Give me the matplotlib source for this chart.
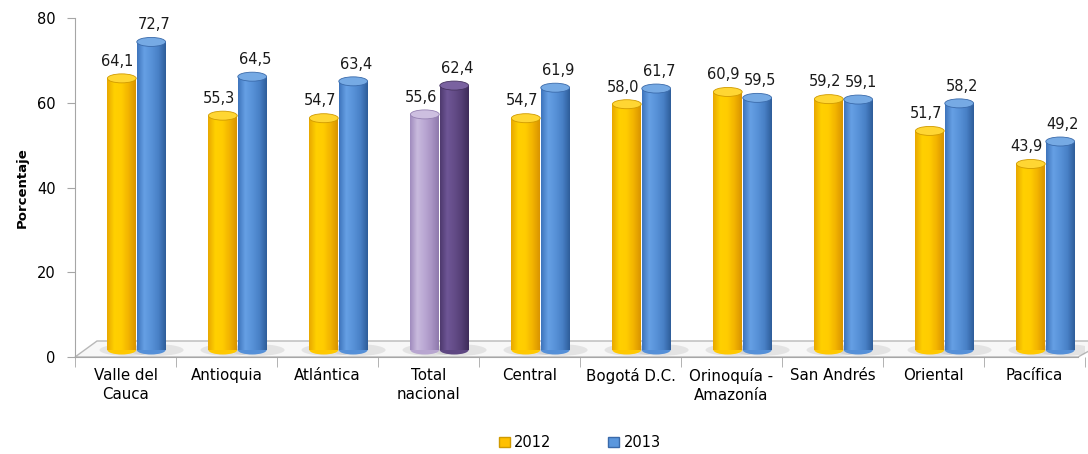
import numpy as np
import matplotlib
matplotlib.use("Agg")
import matplotlib.pyplot as plt
import matplotlib.transforms as mtransforms
from matplotlib.patches import Ellipse, Polygon, Patch

# datos
regiones = ["Valle del\nCauca", "Antioquia", "Atlántica", "Total\nnacional", "Central",
            "Bogotá D.C.", "Orinoquía -\nAmazonía", "San Andrés", "Oriental", "Pacífica"]
valores_2012 = [64.1, 55.3, 54.7, 55.6, 54.7, 58.0, 60.9, 59.2, 51.7, 43.9]
valores_2013 = [72.7, 64.5, 63.4, 62.4, 61.9, 61.7, 59.5, 59.1, 58.2, 49.2]
idx_total = 3

plt.rcParams["font.family"] = ["DejaVu Sans"]

# degradados tipo cilindro (izquierda -> derecha)
def perfil(colores):
  stops = np.linspace(0, 1, len(colores))
  rgb = np.array([matplotlib.colors.to_rgb(c) for c in colores])
  t = np.linspace(0, 1, 64)
  return np.stack([np.interp(t, stops, rgb[:, k]) for k in range(3)], axis=-1)[None, :, :]

estilo = {
  "2012": dict(grad=["#E8A800", "#FFD000", "#FFCC00", "#F2B300", "#D99400"], top="#FFD633", edge="#D09A00", mid="#FFC800"),
  "2013": dict(grad=["#3E74BC", "#66A0E4", "#5892D8", "#4880C6", "#2E5D9A"], top="#76AAE4", edge="#3A6AAA", mid="#5590D8"),
  "t2012": dict(grad=["#A08BBE", "#C9BADD", "#BBA8D4", "#A994C4", "#8E79AC"], top="#CDBFE0", edge="#9581B2", mid="#B8A6D0"),
  "t2013": dict(grad=["#4E3A6E", "#6E5696", "#644C88", "#553F76", "#3E2C5A"], top="#7A62A0", edge="#46335F", mid="#5E4782"),
}

fig = plt.figure(figsize=(10.88, 4.54), dpi=100)
ax = fig.add_axes([75 / 1088, (454 - 357) / 454, 1010 / 1088, (357 - 18) / 454])
ax.set_xlim(0, len(regiones))
ax.set_ylim(0, 80)

# conversión de pixeles a unidades de datos
px_x = len(regiones) / 1010
px_y = 80 / 339

# piso 3D
fdx, fdy = 22 * px_x, 16 * px_y
piso = Polygon([[0, 0], [len(regiones) - 7 * px_x, 0], [len(regiones) + fdx, fdy], [fdx, fdy]],
               closed=True, facecolor="#F7F7F7", edgecolor="#B8B8B8", lw=1.0, zorder=1,
               clip_on=False)
ax.add_patch(piso)

# barras desplazadas por profundidad
off = mtransforms.offset_copy(ax.transData, fig=fig, x=11, y=7, units="dots")
w = 0.285
x = np.arange(len(regiones)) + 0.5
xs_2012 = x - w / 2 - 0.003
xs_2013 = x + w / 2 + 0.003
h_elip = 9 * px_y

def cilindros(xs, vals, serie, dx_txt):
  barras = ax.bar(xs, vals, width=w, transform=off, color="none", zorder=3)
  for i, (b, xx, v) in enumerate(zip(barras, xs, vals)):
    st = estilo[("t" + serie) if i == idx_total else serie]
    # sombra
    ax.add_patch(Ellipse((xx + 0.05, 0), w * 1.9, h_elip * 1.3, transform=off,
                         facecolor="#A0A0A0", alpha=0.22, edgecolor="none", zorder=2))
    ax.add_patch(Ellipse((xx, 0), w, h_elip, transform=off,
                         facecolor=st["mid"], edgecolor="none", zorder=3))
    img = ax.imshow(perfil(st["grad"]), extent=[xx - w / 2, xx + w / 2, 0, v],
                    transform=off, aspect="auto", zorder=3.5, interpolation="bilinear")
    img.set_clip_path(b)
    ax.add_patch(Ellipse((xx, v), w, h_elip, transform=off,
                         facecolor=st["top"], edgecolor=st["edge"], lw=0.6, zorder=4))
    ax.annotate(f"{v:.1f}".replace(".", ","), xy=(xx, v), xycoords=off,
                xytext=(dx_txt, 7), textcoords="offset points", ha="center", va="bottom",
                fontsize=10.5, color="#1A1A1A", zorder=5)
  return barras

cilindros(xs_2012, valores_2012, "2012", -3)
cilindros(xs_2013, valores_2013, "2013", 2)
ax.set_xlim(0, len(regiones))
ax.set_ylim(0, 80)

# ejes
for s in ["top", "right"]:
  ax.spines[s].set_visible(False)
ax.spines["left"].set_color("#A6A6A6")
ax.spines["bottom"].set_color("#A6A6A6")
ax.spines["bottom"].set_bounds(0, len(regiones) - 7 * px_x)
ax.set_yticks([0, 20, 40, 60, 80])
ax.tick_params(axis="y", length=6, color="#A6A6A6", labelsize=10.5, pad=8)
ax.set_xticks(np.arange(len(regiones) + 1), minor=True)
ax.set_xticks(x)
ax.set_xticklabels(regiones, fontsize=10.8, linespacing=1.3)
ax.tick_params(axis="x", which="major", length=0, pad=8)
ax.tick_params(axis="x", which="minor", length=7, color="#A6A6A6")
ax.set_ylabel("Porcentaje", fontsize=9.5, fontweight="bold", labelpad=6)

# leyenda
handles = [Patch(facecolor="#FFC000", edgecolor="#D09A00", label="2012"),
           Patch(facecolor="#5B97DD", edgecolor="#3A6AAA", label="2013")]
fig.legend(handles=handles, loc="lower center", bbox_to_anchor=(0.533, -0.02), ncol=2,
           frameon=False, fontsize=10.5, handlelength=0.75, handleheight=0.75,
           handletextpad=0.3, columnspacing=3.9)

fig.savefig("out.png", dpi=100)
plt.close(fig)
